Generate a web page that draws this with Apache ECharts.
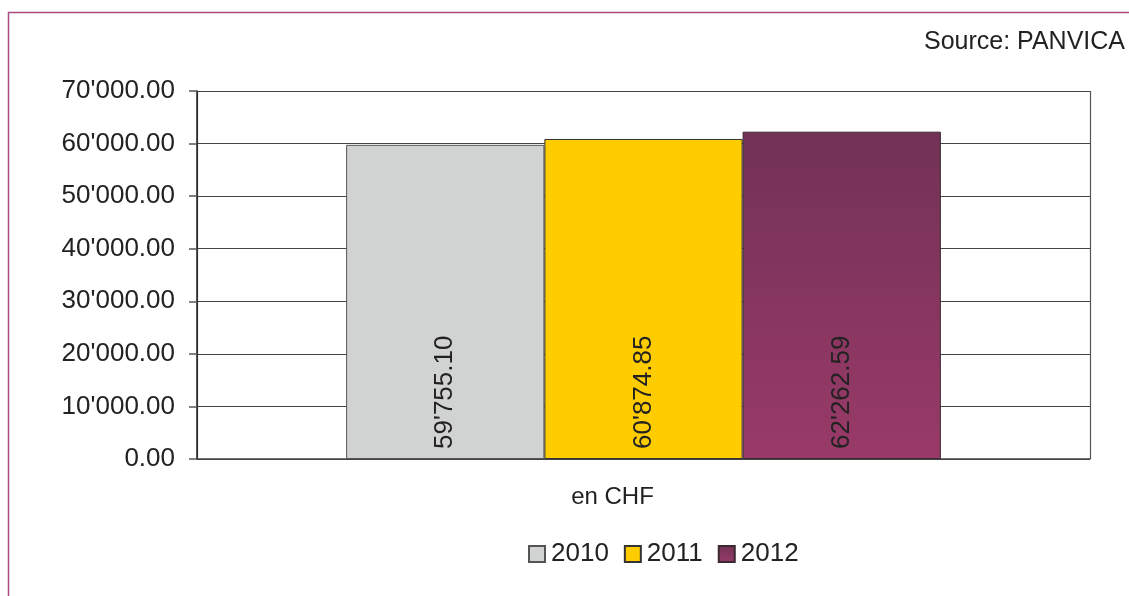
<!DOCTYPE html>
<html>
<head>
<meta charset="utf-8">
<script src="https://cdn.jsdelivr.net/npm/echarts@6/dist/echarts.min.js"></script>
<style>
  html, body { margin: 0; padding: 0; background: #fff; }
  #chart { width: 1129px; height: 596px; }
</style>
</head>
<body>
<div id="chart"></div>
<script>
// Einkommen en CHF, 2010-2012
var categories = ["en CHF"];
var years = ["2010", "2011", "2012"];
var values2010 = [59755.10];
var values2011 = [60874.85];
var values2012 = [62262.59];

var FONT = "Liberation Sans";

function fmt(v) {
  var parts = Number(v).toFixed(2).split(".");
  parts[0] = parts[0].replace(/\B(?=(\d{3})+(?!\d))/g, "'");
  return parts.join(".");
}

var barLabel = {
  show: true,
  position: "insideBottom",
  rotate: 90,
  align: "left",
  verticalAlign: "middle",
  distance: 10,
  color: "#222",
  fontFamily: FONT,
  fontSize: 26,
  formatter: function (p) { return fmt(p.value); }
};

var plum = {
  type: "linear", x: 0, y: 0, x2: 0, y2: 1,
  colorStops: [{ offset: 0, color: "#723256" }, { offset: 1, color: "#993a68" }]
};

var chart = echarts.init(document.getElementById("chart"));
chart.setOption({
  animation: false,
  grid: { left: 197, right: 39, top: 91, bottom: 137 },
  graphic: [
    {
      type: "rect",
      shape: { x: 8.5, y: 12.5, width: 1300, height: 800 },
      style: { fill: "none", stroke: "#ad4a82", lineWidth: 1.5 }
    },
    {
      type: "text",
      right: 4,
      top: 30,
      style: { text: "Source: PANVICA", fontFamily: FONT, fontSize: 25, fill: "#222" }
    }
  ],
  legend: {
    data: years,
    bottom: 24,
    left: 523,
    itemWidth: 16,
    itemHeight: 16,
    itemGap: 15,
    icon: "rect",
    textStyle: { fontFamily: FONT, fontSize: 26, color: "#222", padding: [0, 0, 0, 1] }
  },
  xAxis: {
    type: "category",
    data: categories,
    axisLine: { show: true, lineStyle: { color: "#444", width: 1.5 } },
    axisTick: { show: false },
    axisLabel: { margin: 26, fontFamily: FONT, fontSize: 24, color: "#222", padding: [0, 62, 0, 0] },
    splitLine: { show: true, lineStyle: { color: "#555", width: 1.2 } }
  },
  yAxis: {
    type: "value",
    min: 0,
    max: 70000,
    interval: 10000,
    axisLine: { show: true, lineStyle: { color: "#222", width: 1.5 } },
    axisTick: { show: true, inside: false, length: 8, lineStyle: { color: "#555", width: 1.5 } },
    axisLabel: { margin: 22, fontFamily: FONT, fontSize: 26, color: "#222", padding: [3, 0, 0, 0], formatter: fmt },
    splitLine: { show: true, lineStyle: { color: "#444", width: 1.2 } }
  },
  series: [
    {
      name: "2010", type: "bar", data: values2010,
      barGap: "0%", barCategoryGap: "33.4%",
      itemStyle: { color: "#d1d3d2", borderColor: "#555", borderWidth: 1 },
      label: barLabel
    },
    {
      name: "2011", type: "bar", data: values2011,
      barGap: "0%", barCategoryGap: "33.4%",
      itemStyle: { color: "#ffcc00", borderColor: "#333", borderWidth: 1 },
      label: barLabel
    },
    {
      name: "2012", type: "bar", data: values2012,
      barGap: "0%", barCategoryGap: "33.4%",
      itemStyle: { color: plum, borderColor: "#3a2a32", borderWidth: 1 },
      label: barLabel
    }
  ]
});
</script>
</body>
</html>
